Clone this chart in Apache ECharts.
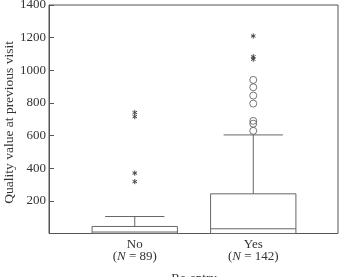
<!DOCTYPE html>
<html>
<head>
<meta charset="utf-8">
<script src="https://cdn.jsdelivr.net/npm/echarts@6/dist/echarts.min.js"></script>
<style>html,body{margin:0;padding:0;background:#fff}#c{width:343px;height:277px}</style>
</head>
<body>
<div id="c"></div>
<script>
// Data
var categories = ['No', 'Yes'];
var groupSizes = [89, 142];
// [min (lower whisker), Q1, median, Q3, upper whisker]
var boxNo = [0, 0, 9, 43, 104];
var boxYes = [0, 0, 29, 243, 604];
var outlierCirclesYes = [941, 896, 845, 796, 690, 673, 629];
var extremeStarsNo = [741, 716, 370, 318];
var extremeStarsYes = [1210, 1083, 1068];
var yTicks = [200, 400, 600, 800, 1000, 1200, 1400];
var yTitle = 'Quality value at previous visit';
var xTitle = 'Re-entry';

var FONT = '"Liberation Serif", "DejaVu Serif", serif';
var LINE = '#666';
var TEXT = '#333';

var boxData = [[0].concat(boxNo), [1].concat(boxYes)];
var circleData = outlierCirclesYes.map(function (v) { return [1, v]; });
var starData = extremeStarsNo.map(function (v) { return [0, v]; })
  .concat(extremeStarsYes.map(function (v) { return [1, v]; }));

var chart = echarts.init(document.getElementById('c'), null, {renderer: 'canvas'});

function renderBox(params, api) {
  var x = api.value(0);
  var lo = api.coord([x, api.value(1)]);
  var q1 = api.coord([x, api.value(2)]);
  var md = api.coord([x, api.value(3)]);
  var q3 = api.coord([x, api.value(4)]);
  var hi = api.coord([x, api.value(5)]);
  var band = api.size([1, 0])[0];
  var hw = band * 0.36;
  var cw = band * 0.25;
  var cx = q1[0];
  var st = {stroke: LINE, lineWidth: 1, fill: null};
  return {
    type: 'group',
    children: [
      {type: 'rect', shape: {x: cx - hw, y: q3[1], width: hw * 2, height: q1[1] - q3[1]}, style: {stroke: LINE, lineWidth: 1, fill: 'none'}},
      {type: 'line', shape: {x1: cx - hw, y1: md[1], x2: cx + hw, y2: md[1]}, style: st},
      {type: 'line', shape: {x1: cx, y1: q3[1], x2: cx, y2: hi[1]}, style: st},
      {type: 'line', shape: {x1: cx - cw, y1: hi[1], x2: cx + cw, y2: hi[1]}, style: st},
      {type: 'line', shape: {x1: cx, y1: q1[1], x2: cx, y2: lo[1]}, style: st},
      {type: 'line', shape: {x1: cx - cw, y1: lo[1], x2: cx + cw, y2: lo[1]}, style: st}
    ]
  };
}

function renderStar(params, api) {
  var p = api.coord([api.value(0), api.value(1)]);
  var r = 2.6;
  var dx = r * 0.87, dy = r * 0.5;
  var st = {stroke: '#444', lineWidth: 1};
  return {
    type: 'group',
    children: [
      {type: 'line', shape: {x1: p[0], y1: p[1] - r, x2: p[0], y2: p[1] + r}, style: st},
      {type: 'line', shape: {x1: p[0] - dx, y1: p[1] - dy, x2: p[0] + dx, y2: p[1] + dy}, style: st},
      {type: 'line', shape: {x1: p[0] - dx, y1: p[1] + dy, x2: p[0] + dx, y2: p[1] - dy}, style: st}
    ]
  };
}

var option = {
  animation: false,
  backgroundColor: '#fff',
  grid: [
    {left: 49, right: 5, top: 5, bottom: 43.5, show: true, borderColor: '#555', borderWidth: 1, backgroundColor: 'transparent', containLabel: false, outerBoundsMode: 'none'},
    {left: 75.5, right: 30.5, top: 5, bottom: 43.5, containLabel: false, outerBoundsMode: 'none'}
  ],
  graphic: [
    {
      type: 'text', left: 2, top: 41, rotation: Math.PI / 2,
      style: {text: yTitle, font: '13.5px "Liberation Serif", "DejaVu Serif", serif', fill: TEXT}
    }
  ],
  xAxis: [
    {gridIndex: 0, type: 'value', min: 0, max: 1, show: false},
    {
      gridIndex: 1, type: 'category', data: categories, boundaryGap: true,
      axisLine: {show: false}, axisTick: {show: false},
      axisLabel: {
        margin: 5, interval: 0, hideOverlap: false,
        formatter: function (v, i) { return '{a|' + v + '}\n{a|(}{i|N}{a| = ' + groupSizes[i] + ')}'; },
        rich: {
          a: {fontFamily: FONT, fontSize: 13, color: TEXT, lineHeight: 12},
          i: {fontFamily: FONT, fontSize: 13, color: TEXT, fontStyle: 'italic', lineHeight: 12}
        }
      },
      name: xTitle, nameLocation: 'middle', nameGap: 39,
      nameTextStyle: {fontFamily: FONT, fontSize: 13, color: TEXT}
    }
  ],
  yAxis: [
    {
      gridIndex: 0, type: 'value', min: 0, max: yTicks[yTicks.length - 1], interval: yTicks[0],
      axisLine: {show: true, lineStyle: {color: '#555', width: 1}},
      axisTick: {show: true, inside: true, length: 5, lineStyle: {color: '#555'}},
      splitLine: {show: false},
      axisLabel: {
        margin: 3, fontFamily: FONT, fontSize: 13, color: TEXT,
        formatter: function (v) { return yTicks.indexOf(v) >= 0 ? String(v) : ''; }
      }
    },
    {gridIndex: 1, type: 'value', min: 0, max: yTicks[yTicks.length - 1], show: false}
  ],
  series: [
    {type: 'custom', xAxisIndex: 1, yAxisIndex: 1, renderItem: renderBox, data: boxData, silent: true},
    {
      type: 'scatter', xAxisIndex: 1, yAxisIndex: 1, data: circleData,
      symbol: 'circle', symbolSize: 7,
      itemStyle: {color: 'transparent', borderColor: '#555', borderWidth: 1}, silent: true
    },
    {type: 'custom', xAxisIndex: 1, yAxisIndex: 1, renderItem: renderStar, data: starData, silent: true}
  ]
};
chart.setOption(option);
</script>
</body>
</html>
